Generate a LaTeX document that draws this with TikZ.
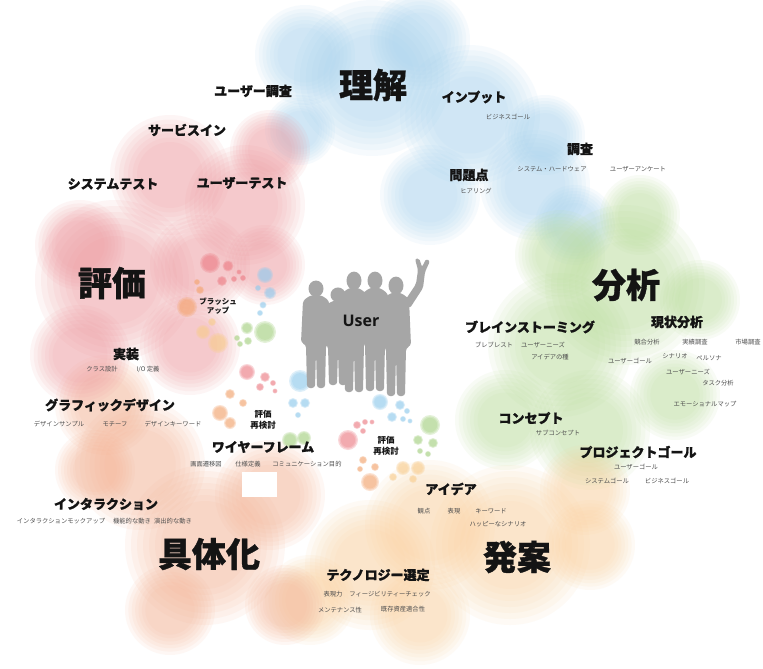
\documentclass[tikz,border=0pt]{standalone}
\usepackage{fontspec}
\newfontfamily\jp{Noto Sans CJK JP}[BoldFeatures={FakeBold=1}]
\newfontfamily\jpplain{Noto Sans CJK JP}
\newfontfamily\latin{Open Sans}
\usepackage{xcolor}
\definecolor{skyBlue}{HTML}{A5D3F0}
\definecolor{leafGreen}{HTML}{BADE9A}
\definecolor{warmPeach}{HTML}{FBD29C}
\definecolor{softSalmon}{HTML}{F6B394}
\definecolor{rosePink}{HTML}{F0999F}
\definecolor{dotRed}{HTML}{EE8088}
\definecolor{dotBlue}{HTML}{92CBEE}
\definecolor{dotGreen}{HTML}{A8D284}
\definecolor{dotOrange}{HTML}{F4A570}
\definecolor{dotYellow}{HTML}{F9CD8E}
\definecolor{figureGray}{HTML}{A6A6A6}
\definecolor{darkText}{HTML}{141414}
\definecolor{subText}{HTML}{4D4D4D}
\usepackage{tikz}

% soft round patch built from thin stacked discs: x, y, radius, colour
\newcommand\softdisc[4]{%
    \foreach \k in {0,...,6}
        \fill[#4, fill opacity=0.095] (#1,#2) circle ({#3*(1-0.075*\k)});
}
% small bubble with a faint rim: x, y, radius, colour
\newcommand\bubble[4]{%
    \foreach \k in {0,1,2}
        \fill[#4, fill opacity=0.3] (#1,#2) circle ({#3*(1-0.14*\k)});
}

\tikzset{
    % Phase names
    phase/.style={
        font=\jp\bfseries\fontsize{34}{34}\selectfont,
        text=darkText,
        inner sep=0pt,
    },
    % Activity headings
    topic/.style={
        font=\jp\bfseries\fontsize{13}{13}\selectfont,
        text=darkText,
        inner sep=0pt,
    },
    % Notes under the headings
    detail/.style={
        font=\jp\fontsize{6.3}{7}\selectfont,
        text=subText,
        inner sep=0pt,
    },
    % Loop captions
    review/.style={
        font=\jpplain\bfseries\fontsize{8.5}{10.5}\selectfont,
        text=darkText,
        align=center,
        inner sep=0pt,
    },
    % One standing person
    member/.pic={
        \fill[figureGray] (0,8) circle (7.5);
        \fill[figureGray, rounded corners=3pt] (-5,14) -- (5,14) -- (13,19) -- (15,58)
            -- (10,60) -- (9,100) -- (1,100) -- (0,66) -- (-1,100) -- (-9,100)
            -- (-10,60) -- (-15,58) -- (-13,19) -- cycle;
    },
}

\begin{document}
\begin{tikzpicture}[x=1pt, y=-1pt]
    \useasboundingbox (0,0) rectangle (763,669);
    \fill[white] (0,0) rectangle (763,669);

    % ---- background ring ----
    \foreach \cx/\cy/\rr in {372/78/78, 470/115/70, 535/185/55, 430/195/50, 305/55/50, 300/130/35,
                             575/225/40, 420/40/50, 545/135/40}
        {\softdisc{\cx}{\cy}{\rr}{skyBlue}}
    \foreach \cx/\cy/\rr in {625/285/80, 560/345/72, 590/430/60, 505/420/50, 675/395/45, 560/255/45,
                             700/300/40, 640/215/40}
        {\softdisc{\cx}{\cy}{\rr}{leafGreen}}
    \foreach \cx/\cy/\rr in {510/545/80, 430/525/65, 370/565/65, 585/490/45, 420/615/50, 310/600/45,
                             590/545/45}
        {\softdisc{\cx}{\cy}{\rr}{warmPeach}}
    \foreach \cx/\cy/\rr in {205/545/80, 140/465/65, 270/495/55, 105/405/50, 285/605/40,
                             95/470/40, 170/610/45}
        {\softdisc{\cx}{\cy}{\rr}{softSalmon}}
    \foreach \cx/\cy/\rr in {115/280/80, 170/175/60, 245/205/60, 80/355/50, 190/345/50, 270/150/40,
                             265/265/40, 80/245/45, 200/265/50}
        {\softdisc{\cx}{\cy}{\rr}{rosePink}}

    % ---- bubble loops ----
    \foreach \cx/\cy/\rr in {210/263/10, 228/266/5.5, 222/281/5, 234/279/3, 239/272/2.5, 243/278/3,
                             247/372/8, 265/377/5, 260/387/4, 273/383/3, 275/391/2.5,
                             348/440/10, 357/425/4, 365/422/3, 372/422/2.5, 363/431/3}
        {\bubble{\cx}{\cy}{\rr}{dotRed}}
    \foreach \cx/\cy/\rr in {265/275/8, 270/293/6, 263/305/3.5, 258/288/3, 260/313/3,
                             300/381/11, 293/403/5, 305/403/5, 298/415/3,
                             380/402/8, 400/405/5, 392/417/5, 403/419/3, 410/421/2.5, 407/411/3}
        {\bubble{\cx}{\cy}{\rr}{dotBlue}}
    \foreach \cx/\cy/\rr in {265/332/11, 247/328/6, 237/338/3, 248/341/4, 240/344/3,
                             290/440/8, 304/438/7,
                             430/425/10, 418/440/5, 433/443/5, 420/451/3, 428/454/3}
        {\bubble{\cx}{\cy}{\rr}{dotGreen}}
    \foreach \cx/\cy/\rr in {187/307/10, 200/290/4, 197/282/3,
                             220/413/8, 230/423/6, 243/403/4, 230/394/5,
                             370/482/9, 363/460/4, 375/467/4, 360/469/3}
        {\bubble{\cx}{\cy}{\rr}{dotOrange}}
    \foreach \cx/\cy/\rr in {203/332/7, 218/343/10, 212/322/4,
                             403/468/7, 418/468/7, 393/477/4, 413/479/4}
        {\bubble{\cx}{\cy}{\rr}{dotYellow}}

    \fill[white] (242,472) rectangle (277,497);

    % ---- users ----
    \pic[yscale=1.08] at (316,280) {member};
    \pic[yscale=0.98] at (338,287) {member};
    \pic[yscale=1.2] at (375,271) {member};
    \pic[yscale=1.21] at (354,271) {member};
    \pic[yscale=1.2] at (396,276) {member};
    \fill[figureGray, rounded corners=2pt] (404,302) -- (416,284) -- (418,270) -- (415,259)
        -- (419,258) -- (422,267) -- (426,259) -- (430,261) -- (425,272) -- (423,288) -- (410,308) -- cycle;
    \node (user) [font=\latin\bfseries\fontsize{16}{16}\selectfont, text=darkText] at (361,321) {User};

    % ---- phases ----
    \node (rikai) [phase] at (373,85) {理解};
    \node (bunseki) [phase] at (626,285) {分析};
    \node (hatsuan) [phase] at (517,557) {発案};
    \node (gutaika) [phase] at (209,554) {具体化};
    \node (hyoka) [phase] at (112,283) {評価};

    % ---- understanding ----
    \node (input) [topic] at (474,97) {インプット};
    \node (bizgoal1) [detail] at (508,117) {ビジネスゴール};
    \node (mondai) [topic] at (469,175) {問題点};
    \node (hearing) [detail] at (476,191) {ヒアリング};
    \node (chosa) [topic] at (580,149) {調査};
    \node (syshw) [detail] at (552,169) {システム・ハードウェア};
    \node (enquete) [detail] at (638,169) {ユーザーアンケート};

    % ---- analysis ----
    \node (brainstorm) [topic] at (530,327) {ブレインストーミング};
    \node (burebure) [detail] at (494,345) {ブレブレスト};
    \node (needs1) [detail] at (543,345) {ユーザーニーズ};
    \node (seed) [detail] at (550,357) {アイデアの種};
    \node (genjo) [topic] at (677,322) {現状分析};
    \node (kyogo) [detail] at (647,342) {競合分析};
    \node (jisseki) [detail] at (695,342) {実績調査};
    \node (shijo) [detail] at (748,342) {市場調査};
    \node (usergoal1) [detail] at (630,361) {ユーザーゴール};
    \node (scenario) [detail] at (675,356) {シナリオ};
    \node (persona) [detail] at (709,358) {ペルソナ};
    \node (needs2) [detail] at (688,372) {ユーザーニーズ};
    \node (task) [detail] at (718,383) {タスク分析};
    \node (emomap) [detail] at (705,404) {エモーショナルマップ};
    \node (concept) [topic] at (531,418) {コンセプト};
    \node (subconcept) [detail] at (558,433) {サブコンセプト};
    \node (pjgoal) [topic] at (638,452) {プロジェクトゴール};
    \node (usergoal2) [detail] at (636,467) {ユーザーゴール};
    \node (sysgoal) [detail] at (607,481) {システムゴール};
    \node (bizgoal2) [detail] at (667,481) {ビジネスゴール};

    % ---- ideation ----
    \node (idea) [topic] at (451,489) {アイデア};
    \node (kanten) [detail] at (424,511) {観点};
    \node (hyogen) [detail] at (454,511) {表現};
    \node (keyword) [detail] at (491,511) {キーワード};
    \node (happy) [detail] at (498,524) {ハッピーなシナリオ};
    \node (techsel) [topic] at (378,575) {テクノロジー選定};
    \node (hyogenryoku) [detail] at (333,594) {表現力};
    \node (feasibility) [detail] at (390,594) {フィージビリティーチェック};
    \node (maintain) [detail] at (340,610) {メンテナンス性};
    \node (asset) [detail] at (403,609) {既存資産適合性};

    % ---- realisation ----
    \node (wireframe) [topic] at (263,447) {ワイヤーフレーム};
    \node (transition) [detail] at (206,464) {画面遷移図};
    \node (spec) [detail] at (248,464) {仕様定義};
    \node (commgoal) [detail] at (307,464) {コミュニケーション目的};
    \node (interaction) [topic] at (106,504) {インタラクション};
    \node (mockup) [detail] at (61,521) {インタラクションモックアップ};
    \node (funcmove) [detail] at (132,521) {機能的な動き};
    \node (effectmove) [detail] at (173,521) {演出的な動き};
    \node (graphic) [topic] at (110,405) {グラフィックデザイン};
    \node (sample) [detail] at (59,424) {デザインサンプル};
    \node (motif) [detail] at (115,424) {モチーフ};
    \node (designkw) [detail] at (173,424) {デザインキーワード};
    \node (jisso) [topic] at (126,354) {実装};
    \node (classdesign) [detail] at (102,369) {クラス設計};
    \node (iodef) [detail] at (148,369) {I/O 定義};

    % ---- evaluation ----
    \node (usersurvey) [topic] at (253,91) {ユーザー調査};
    \node (servicein) [topic] at (187,130) {サービスイン};
    \node (systest) [topic] at (113,184) {システムテスト};
    \node (usertest) [topic] at (242,183) {ユーザーテスト};

    % ---- loops ----
    \node (brushup) [review, font=\jpplain\bfseries\fontsize{7.5}{8.5}\selectfont] at (218,306) {ブラッシュ\\アップ};
    \node (review1) [review] at (263,420) {評価\\再検討};
    \node (review2) [review] at (386,446) {評価\\再検討};
\end{tikzpicture}
\end{document}
